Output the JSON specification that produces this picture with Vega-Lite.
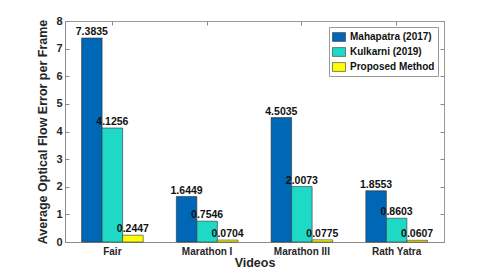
{
  "$schema": "https://vega.github.io/schema/vega-lite/v6.json",
  "width": 379,
  "height": 221,
  "autosize": "none",
  "padding": {"left": 65, "top": 21, "right": 47, "bottom": 31},
  "background": "white",
  "config": {
    "view": {"stroke": "#9a9a9a", "strokeWidth": 1},
    "font": "Liberation Sans",
    "axis": {"grid": false, "domainColor": "#8a8a8a", "tickColor": "#8a8a8a", "labelColor": "#262626", "labelFont": "Liberation Sans", "labelFontWeight": "bold", "labelFontSize": 10, "titleFont": "Liberation Sans", "titleFontWeight": "bold", "titleFontSize": 12.5, "titleColor": "#262626", "tickSize": -4, "labelOverlap": false}
  },
  "data": {"values": [
    {"video": "Fair", "method": "Mahapatra (2017)", "value": 7.3835},
    {"video": "Fair", "method": "Kulkarni (2019)", "value": 4.1256},
    {"video": "Fair", "method": "Proposed Method", "value": 0.2447},
    {"video": "Marathon I", "method": "Mahapatra (2017)", "value": 1.6449},
    {"video": "Marathon I", "method": "Kulkarni (2019)", "value": 0.7546},
    {"video": "Marathon I", "method": "Proposed Method", "value": 0.0704},
    {"video": "Marathon III", "method": "Mahapatra (2017)", "value": 4.5035},
    {"video": "Marathon III", "method": "Kulkarni (2019)", "value": 2.0073},
    {"video": "Marathon III", "method": "Proposed Method", "value": 0.0775},
    {"video": "Rath Yatra", "method": "Mahapatra (2017)", "value": 1.8553},
    {"video": "Rath Yatra", "method": "Kulkarni (2019)", "value": 0.8603},
    {"video": "Rath Yatra", "method": "Proposed Method", "value": 0.0607}
  ]},
  "encoding": {
    "x": {"field": "video", "type": "nominal", "sort": ["Fair", "Marathon I", "Marathon III", "Rath Yatra"], "scale": {"paddingInner": 0.35, "paddingOuter": 0.175}},
    "xOffset": {"field": "method", "type": "nominal", "sort": ["Mahapatra (2017)", "Kulkarni (2019)", "Proposed Method"]},
    "y": {"field": "value", "type": "quantitative", "scale": {"domain": [0, 8], "nice": false}}
  },
  "layer": [
    {
      "mark": {"type": "bar", "stroke": "#333333", "strokeWidth": 0.6},
      "encoding": {
        "x": {"field": "video", "type": "nominal", "sort": ["Fair", "Marathon I", "Marathon III", "Rath Yatra"], "scale": {"paddingInner": 0.35, "paddingOuter": 0.175}, "axis": {"title": "Videos", "labelAngle": 0, "labelPadding": 8, "titlePadding": 0, "orient": "bottom"}},
        "y": {"field": "value", "type": "quantitative", "scale": {"domain": [0, 8], "nice": false}, "axis": {"title": "Average Optical Flow Error per Frame", "values": [0,1,2,3,4,5,6,7,8], "labelFontSize": 11, "labelPadding": 7, "titlePadding": 6, "orient": "left"}},
        "color": {"field": "method", "type": "nominal", "sort": ["Mahapatra (2017)", "Kulkarni (2019)", "Proposed Method"], "scale": {"domain": ["Mahapatra (2017)", "Kulkarni (2019)", "Proposed Method"], "range": ["#0067b6", "#1ed9c6", "#ffff00"]}, "legend": {"title": null, "orient": "none", "legendX": 264, "legendY": 6, "labelFontSize": 10, "labelFontWeight": "bold", "labelColor": "#111111", "labelFont": "Liberation Sans", "symbolType": "M-1,-0.68H1V0.68H-1Z", "symbolSize": 169, "symbolStrokeColor": "#333333", "symbolStrokeWidth": 0.6, "rowPadding": 2, "padding": 3, "labelOffset": 4, "strokeColor": "#999999", "fillColor": "white", "labelLimit": 200}}
      }
    },
    {
      "mark": {"type": "text", "baseline": "bottom", "dy": -1, "fontWeight": "bold", "fontSize": 10.5, "color": "#111111", "font": "Liberation Sans"},
      "encoding": {
        "x": {"field": "video", "type": "nominal", "sort": ["Fair", "Marathon I", "Marathon III", "Rath Yatra"], "axis": null},
        "y": {"field": "value", "type": "quantitative", "axis": null},
        "text": {"field": "value", "type": "quantitative", "format": ".4f"}
      }
    },
    {
      "mark": {"type": "bar", "opacity": 0},
      "encoding": {
        "x": {"field": "video", "type": "nominal", "sort": ["Fair", "Marathon I", "Marathon III", "Rath Yatra"], "axis": {"orient": "top", "labels": false, "title": null, "domain": false}},
        "y": {"field": "value", "type": "quantitative", "axis": {"orient": "right", "labels": false, "title": null, "values": [0,1,2,3,4,5,6,7,8], "domain": false}}
      }
    }
  ],
  "resolve": {"axis": {"x": "independent", "y": "independent"}}
}
